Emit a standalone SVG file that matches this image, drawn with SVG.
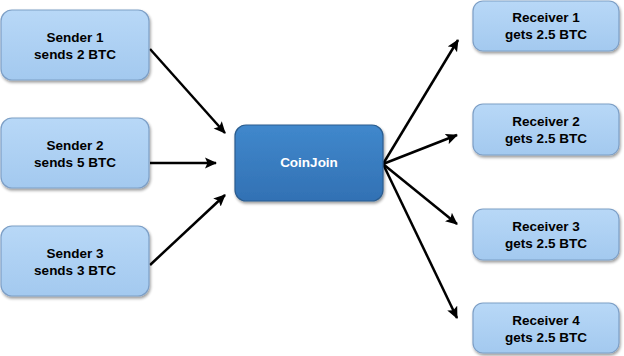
<svg xmlns="http://www.w3.org/2000/svg" width="624" height="356" viewBox="0 0 624 356">
<defs>
<linearGradient id="lg" x1="0" y1="0" x2="0" y2="1">
<stop offset="0" stop-color="#b8d8f7"/>
<stop offset="1" stop-color="#a3c9ef"/>
</linearGradient>
<linearGradient id="dg" x1="0" y1="0" x2="0" y2="1">
<stop offset="0" stop-color="#4088cc"/>
<stop offset="1" stop-color="#3271b4"/>
</linearGradient>
<filter id="sh" x="-10%" y="-10%" width="125%" height="135%">
<feGaussianBlur in="SourceAlpha" stdDeviation="1.5"/>
<feOffset dx="1" dy="2" result="b"/>
<feComponentTransfer><feFuncA type="linear" slope="0.4"/></feComponentTransfer>
<feMerge><feMergeNode/><feMergeNode in="SourceGraphic"/></feMerge>
</filter>
<marker id="ah" markerWidth="12" markerHeight="12" refX="11" refY="6" orient="auto" markerUnits="userSpaceOnUse">
<path d="M0,0.5 L12,6 L0,11.5 L2.5,6 Z" fill="#000"/>
</marker>
</defs>
<style>
.lt{fill:url(#lg);stroke:#7d9fc6;stroke-width:1.2;filter:url(#sh)}
.dk{fill:url(#dg);stroke:#2c5d8f;stroke-width:1.2;filter:url(#sh)}
text{font-family:"Liberation Sans",Arial,sans-serif;font-weight:bold;font-size:13.5px;text-anchor:middle}
.tb{fill:#000}
.tw{fill:#fff}
.c{stroke:#000;stroke-width:2.5;fill:none;marker-end:url(#ah)}
</style>
<g id="connectors">
<line class="c" x1="150" y1="49" x2="225" y2="133"/>
<line class="c" x1="150" y1="163" x2="216" y2="163"/>
<line class="c" x1="150" y1="265" x2="225" y2="195"/>
<line class="c" x1="383" y1="164" x2="458" y2="40"/>
<line class="c" x1="383" y1="164" x2="457" y2="135"/>
<line class="c" x1="383" y1="164" x2="457" y2="224"/>
<line class="c" x1="383" y1="164" x2="457" y2="318"/>
</g>
<g id="sender1">
<rect class="lt" x="1" y="10" width="148" height="70" rx="11"/>
<text class="tb" x="75" y="42">Sender 1</text>
<text class="tb" x="75" y="59">sends 2 BTC</text>
</g>
<g id="sender2">
<rect class="lt" x="1" y="118" width="148" height="70" rx="11"/>
<text class="tb" x="75" y="150">Sender 2</text>
<text class="tb" x="75" y="167">sends 5 BTC</text>
</g>
<g id="sender3">
<rect class="lt" x="1" y="226" width="148" height="70" rx="11"/>
<text class="tb" x="75" y="258">Sender 3</text>
<text class="tb" x="75" y="275">sends 3 BTC</text>
</g>
<g id="coinjoin">
<rect class="dk" x="235" y="125" width="148" height="76" rx="11"/>
<text class="tw" x="309" y="167">CoinJoin</text>
</g>
<g id="receiver1">
<rect class="lt" x="473" y="1" width="146" height="50" rx="10"/>
<text class="tb" x="546" y="22">Receiver 1</text>
<text class="tb" x="546" y="39">gets 2.5 BTC</text>
</g>
<g id="receiver2">
<rect class="lt" x="473" y="104" width="146" height="51" rx="10"/>
<text class="tb" x="546" y="126">Receiver 2</text>
<text class="tb" x="546" y="143">gets 2.5 BTC</text>
</g>
<g id="receiver3">
<rect class="lt" x="473" y="209" width="146" height="51" rx="10"/>
<text class="tb" x="546" y="231">Receiver 3</text>
<text class="tb" x="546" y="248">gets 2.5 BTC</text>
</g>
<g id="receiver4">
<rect class="lt" x="473" y="303" width="146" height="50" rx="10"/>
<text class="tb" x="546" y="325">Receiver 4</text>
<text class="tb" x="546" y="342">gets 2.5 BTC</text>
</g>
</svg>
